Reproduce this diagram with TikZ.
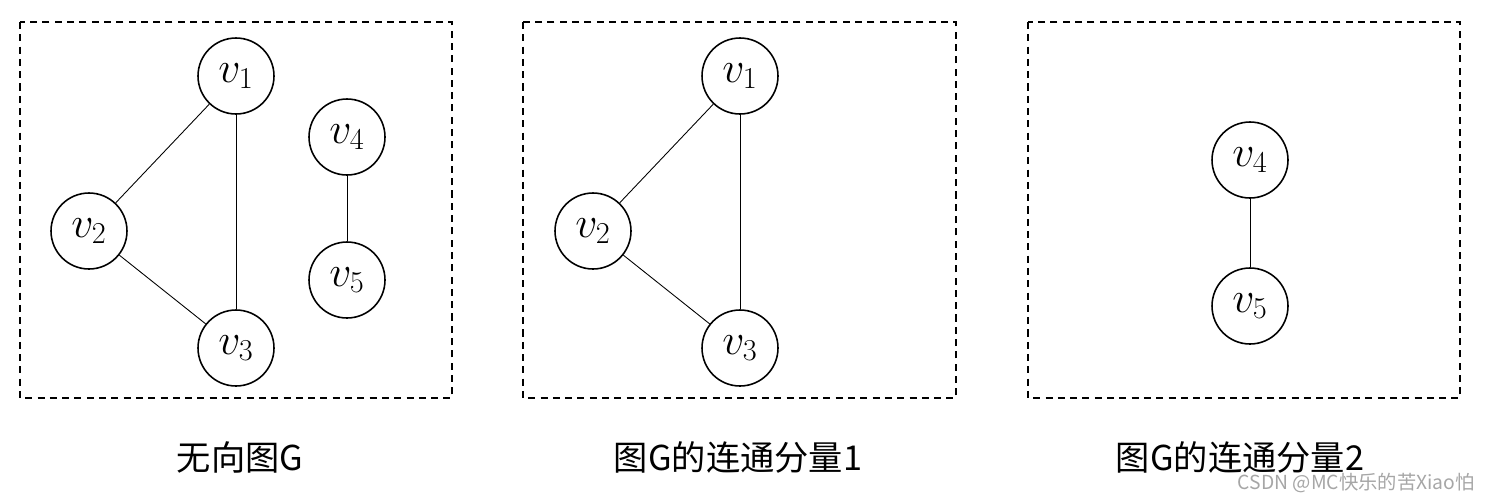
\documentclass[tikz,border=0pt]{standalone}
\usepackage{fontspec}
\newfontfamily\cjk{Noto Sans CJK SC}
\begin{document}
\begin{tikzpicture}[x=0.02cm,y=-0.02cm,
  vtx/.style={circle,draw,line width=0.9pt,minimum size=1.52cm,inner sep=0pt,font=\fontsize{25}{30}\selectfont},
  frame/.style={draw,line width=0.8pt,dash pattern=on 4pt off 3pt},
  edge/.style={draw,line width=0.5pt},
  captxt/.style={font=\cjk\fontsize{19.5}{23}\selectfont},
  wm/.style={font=\cjk\fontsize{11}{13}\selectfont,text=black!35}]
\useasboundingbox (0,0) rectangle (1494,501);
\draw[frame] (20,22) rectangle (452,398);
\draw[frame] (523,22) rectangle (956,398);
\draw[frame] (1028,22) rectangle (1460,398);
% graph G
\node[vtx] (a1) at (236,76) {$v_1$};
\node[vtx] (a2) at (89,231) {$v_2$};
\node[vtx] (a3) at (236,348) {$v_3$};
\node[vtx] (a4) at (347,137) {$v_4$};
\node[vtx] (a5) at (347,280) {$v_5$};
\draw[edge] (a1) -- (a2);
\draw[edge] (a1) -- (a3);
\draw[edge] (a2) -- (a3);
\draw[edge] (a4) -- (a5);
% component 1
\node[vtx] (b1) at (740,76) {$v_1$};
\node[vtx] (b2) at (593,231) {$v_2$};
\node[vtx] (b3) at (740,348) {$v_3$};
\draw[edge] (b1) -- (b2);
\draw[edge] (b1) -- (b3);
\draw[edge] (b2) -- (b3);
% component 2
\node[vtx] (c4) at (1250,160) {$v_4$};
\node[vtx] (c5) at (1250,306) {$v_5$};
\draw[edge] (c4) -- (c5);
% captions
\node[captxt] (t1) at (240,457) {无向图G};
\node[captxt] (t2) at (738,457) {图G的连通分量1};
\node[captxt] (t3) at (1240,457) {图G的连通分量2};
\node[wm,anchor=east] (w) at (1481,483) {CSDN @MC快乐的苦Xiao怕};
\end{tikzpicture}
\end{document}
